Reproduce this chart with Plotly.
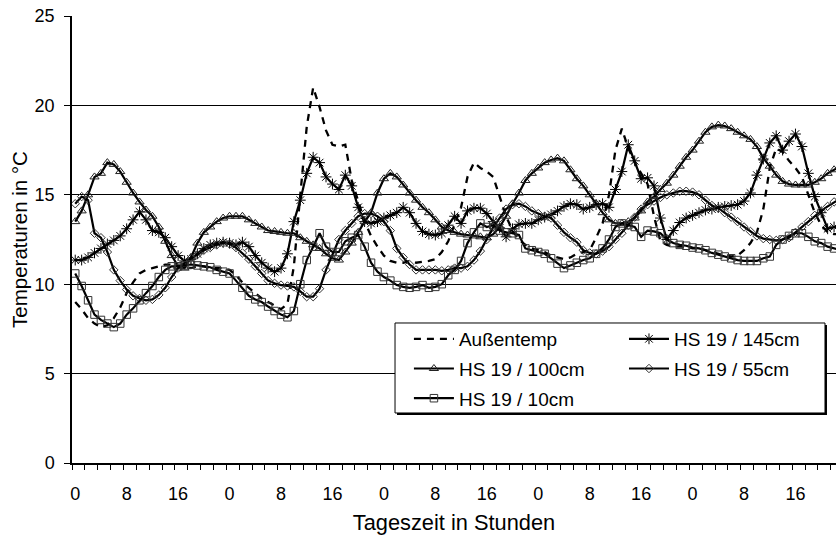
import plotly.graph_objects as go

# ---------------- data (hourly readings, category index = hour) ----------------
hours = list(range(120))
tick_positions = list(range(0, 113, 8))
tick_labels = ["0", "8", "16"] * 5
minor_tick_positions = [h - 0.5 for h in range(0, 122, 2)]

aussentemp = [
    9.0, 8.6, 8.1, 7.8, 7.6, 7.7, 8.1, 8.7, 9.5, 10.1,
    10.6, 10.8, 10.9, 11.0, 11.1, 11.1, 11.0, 11.0, 10.9, 11.0,
    11.0, 10.9, 10.9, 10.9, 10.8, 10.5, 10.1, 9.8, 9.5, 9.2,
    9.0, 8.8, 8.6, 8.9, 11.0, 15.0, 18.8, 21.0, 19.9, 18.6,
    17.8, 17.7, 17.8, 15.8, 14.6, 13.5, 12.7, 12.1, 11.6, 11.3,
    11.2, 11.2, 11.3, 11.2, 11.25, 11.3, 11.4, 11.8, 12.4, 13.3,
    14.3, 16.0, 16.8, 16.5, 16.3, 16.0, 14.9, 13.8, 13.0, 12.5,
    12.2, 12.0, 11.9, 11.8, 11.6, 11.5, 11.4, 11.5, 11.7, 11.8,
    11.9, 12.6, 13.4, 15.0, 17.5, 18.7, 17.6, 16.8, 16.2, 15.6,
    13.8, 12.4, 12.2, 12.1, 12.1, 12.1, 12.0, 12.0, 11.9, 11.8,
    11.7, 11.6, 11.55, 11.6, 11.9, 12.3, 12.9, 14.2, 16.5, 17.6,
    17.4, 16.9, 16.5, 16.0, 15.0, 14.0, 13.3, 12.9, 12.8, 12.8,
]

hs19_145 = [
    11.35, 11.35, 11.5, 11.75, 12.0, 12.25, 12.45, 12.7, 13.1, 13.6,
    14.05, 13.6, 13.0, 12.9, 12.6, 12.1, 11.6, 11.3, 11.4, 11.7,
    12.0, 12.2, 12.3, 12.35, 12.3, 12.2, 12.35, 12.1, 11.6, 11.2,
    10.9, 10.7, 10.9, 11.7, 13.5, 14.7, 16.2, 17.1, 16.8, 16.0,
    15.6, 15.3, 16.1, 15.5, 14.3, 13.5, 13.4, 13.5, 13.7, 13.85,
    14.0, 14.3, 14.0, 13.4, 12.95, 12.8, 12.75, 12.85, 13.3, 13.8,
    13.4, 14.1, 14.25, 14.25, 13.95, 13.5, 13.15, 12.65, 13.1, 13.35,
    13.4, 13.4, 13.6, 13.75, 13.9, 14.1, 14.35, 14.5, 14.45, 14.2,
    14.3, 14.45, 14.5, 14.3, 15.3, 16.3, 17.8, 16.9, 15.9, 15.95,
    15.5, 13.7, 12.5, 13.0, 13.45, 13.7, 13.85, 14.0, 14.15, 14.2,
    14.3, 14.35, 14.4, 14.45, 14.65, 15.1, 16.1, 17.0, 17.9, 18.3,
    17.5, 18.0, 18.4, 17.7, 16.2, 14.9, 14.0, 13.1, 13.2, 13.2,
]

hs19_100 = [
    13.5, 14.1, 15.0, 16.0, 16.2, 16.8, 16.7, 16.3, 15.7, 15.1,
    14.6, 14.15, 13.8, 13.2, 12.4, 11.6, 11.0, 10.9, 11.5, 12.3,
    12.9, 13.2, 13.5, 13.7, 13.8, 13.8, 13.8, 13.6, 13.4, 13.2,
    13.0, 12.95, 12.9, 12.85, 12.85, 12.6, 12.4, 12.2, 12.0, 11.7,
    11.45, 11.35, 11.8, 12.3, 12.9, 13.5, 14.0, 15.1, 15.9, 16.2,
    16.0, 15.55, 15.1, 14.7, 14.3, 14.0, 13.6, 13.2, 13.0, 12.9,
    12.8, 12.75, 12.7, 12.65, 12.6, 12.8, 13.2, 13.8, 14.5, 15.1,
    15.8, 16.2, 16.5, 16.8, 16.95, 17.05, 16.9, 16.4, 15.9, 15.5,
    15.0, 14.5, 14.0, 13.6, 13.4, 13.4, 13.5, 13.7, 14.1, 14.6,
    14.9, 15.3, 15.65, 16.1, 16.6, 17.1, 17.5, 18.0, 18.5, 18.8,
    18.9, 18.85, 18.7, 18.5, 18.3, 18.1, 17.7, 17.05, 16.6, 16.1,
    15.75, 15.6, 15.55, 15.55, 15.55, 15.7, 15.9, 16.2, 16.4, 16.6,
]

hs19_55 = [
    14.5, 14.9, 14.7, 12.85, 12.6, 11.8, 10.8, 10.2, 9.7, 9.35,
    9.2, 9.1, 9.15, 9.4, 9.8, 10.4, 10.9, 11.2, 11.45, 11.65,
    11.9, 12.05, 12.2, 12.3, 12.25, 12.05, 11.75, 11.4, 11.0, 10.6,
    10.2, 10.05, 9.95, 9.9, 9.85, 9.6, 9.3, 9.3, 9.75, 10.8,
    11.7, 12.5, 13.0, 13.4, 13.8, 13.95, 13.95, 13.8, 13.5, 13.0,
    12.0, 11.5, 11.1, 10.8, 10.8, 10.8, 10.8, 10.75, 10.8, 10.9,
    10.9, 11.0, 11.35, 11.85, 12.5, 13.2, 13.7, 14.2, 14.45, 14.5,
    14.35, 14.1, 13.95, 13.8, 13.7, 13.3, 12.9, 12.6, 12.35, 11.9,
    11.75, 11.7, 11.85, 12.1, 12.5, 12.85, 13.3, 13.75, 14.2, 14.45,
    14.65, 14.85, 15.0, 15.1, 15.2, 15.2, 15.15, 15.0, 14.7, 14.4,
    14.25, 14.0, 13.75, 13.5, 13.2, 12.95, 12.7, 12.55, 12.5, 12.45,
    12.5, 12.6, 12.9, 13.2, 13.5, 13.85, 14.1, 14.35, 14.6, 14.8,
]

hs19_10 = [
    10.6, 9.9, 9.1, 8.3, 8.0, 7.8, 7.6, 7.8, 8.3, 8.65,
    9.1, 9.5, 9.9, 10.4, 10.8, 11.0, 11.0, 11.05, 11.1, 11.05,
    11.0, 10.95, 10.8, 10.7, 10.6, 10.2, 9.8, 9.35, 9.15, 9.0,
    8.75, 8.5, 8.3, 8.15, 8.5, 10.0, 11.35, 12.1, 12.85, 12.1,
    11.8, 11.8, 12.4, 12.6, 12.75, 12.1, 11.2, 10.7, 10.4, 10.2,
    9.95, 9.85, 9.8, 9.85, 9.95, 9.8, 9.85, 10.0, 10.5, 10.8,
    11.3, 12.3, 12.9, 13.4, 13.2, 13.3, 13.0, 12.9, 12.85, 12.75,
    12.0, 11.9, 11.8, 11.7, 11.45, 11.15, 10.9, 11.05, 11.2, 11.35,
    11.45, 11.7, 12.0, 12.5, 13.2, 13.4, 13.3, 13.2, 12.65, 13.0,
    12.95, 12.85, 12.5, 12.3, 12.2, 12.15, 12.05, 12.0, 11.9, 11.75,
    11.65, 11.55, 11.45, 11.35, 11.3, 11.3, 11.3, 11.45, 11.55, 12.2,
    12.5, 12.7, 12.85, 12.85, 12.65, 12.4, 12.3, 12.1, 12.0, 11.9,
]

FONT = "Liberation Sans, Arial, sans-serif"

fig = go.Figure()

fig.add_trace(go.Scatter(
    x=hours, y=aussentemp, name="Außentemp", mode="lines",
    line=dict(color="black", width=2.3, dash="7px,6px"),
    legend="legend", legendgroup="a",
))
fig.add_trace(go.Scatter(
    x=hours, y=hs19_145, name="HS 19 / 145cm", mode="lines+markers",
    line=dict(color="black", width=2.2),
    marker=dict(symbol="asterisk-open", size=9, color="black",
                line=dict(color="#222", width=1)),
    legend="legend2", legendgroup="b",
))
fig.add_trace(go.Scatter(
    x=hours, y=hs19_100, name="HS 19 / 100cm", mode="lines+markers",
    line=dict(color="black", width=2.2),
    marker=dict(symbol="triangle-up-open", size=8, color="#222",
                line=dict(color="#222", width=1)),
    legend="legend", legendgroup="c",
))
fig.add_trace(go.Scatter(
    x=hours, y=hs19_55, name="HS 19 / 55cm", mode="lines+markers",
    line=dict(color="black", width=2.2),
    marker=dict(symbol="diamond-open", size=6.5, color="#333",
                line=dict(color="#333", width=1)),
    legend="legend2", legendgroup="d",
))
fig.add_trace(go.Scatter(
    x=hours, y=hs19_10, name="HS 19 / 10cm", mode="lines+markers",
    line=dict(color="black", width=2.2),
    marker=dict(symbol="square-open", size=7.5, color="#333",
                line=dict(color="#333", width=1)),
    legend="legend", legendgroup="e",
))

# legend frame with shadow (paper coordinates of the plot area)
fig.add_shape(type="rect", xref="paper", yref="paper", layer="above",
              x0=0.4254, x1=0.9882, y0=0.1074, y1=0.3087,
              fillcolor="black", line=dict(width=0))
fig.add_shape(type="rect", xref="paper", yref="paper", layer="above",
              x0=0.4228, x1=0.9856, y0=0.1119, y1=0.3132,
              fillcolor="white", line=dict(color="black", width=1))

legend_common = dict(
    bgcolor="rgba(0,0,0,0)", borderwidth=0, font=dict(family=FONT, size=19, color="black"),
    xanchor="left", yanchor="top", tracegroupgap=2, itemwidth=40,
)

fig.update_layout(
    width=836, height=536,
    paper_bgcolor="white", plot_bgcolor="white",
    margin=dict(l=72, r=0, t=16, b=73),
    font=dict(family=FONT, size=18, color="black"),
    showlegend=True,
    legend=dict(x=0.441, y=0.32, **legend_common),
    legend2=dict(x=0.7225, y=0.32, **legend_common),
    xaxis=dict(
        range=[-0.5, 118.3],
        tickmode="array", tickvals=tick_positions, ticktext=tick_labels,
        ticks="outside", ticklen=14, tickcolor="rgba(0,0,0,0)",
        tickfont=dict(family=FONT, size=18),
        minor=dict(tickmode="array", tickvals=minor_tick_positions,
                   ticks="outside", ticklen=5, tickcolor="black", tickwidth=1,
                   showgrid=False),
        showline=True, linecolor="black", linewidth=1.5,
        showgrid=False, zeroline=False,
        title=dict(text="Tageszeit in Stunden", font=dict(family=FONT, size=21.8),
                   standoff=11),
    ),
    yaxis=dict(
        range=[0, 25], tickmode="array", tickvals=[0, 5, 10, 15, 20, 25],
        ticks="outside", ticklen=6, tickcolor="black",
        ticklabelstandoff=6,
        tickfont=dict(family=FONT, size=18),
        showline=True, linecolor="black", linewidth=1.5,
        showgrid=True, gridcolor="black", gridwidth=1, zeroline=False,
        title=dict(text="Temperaturen in °C", font=dict(family=FONT, size=20.5),
                   standoff=1),
    ),
)

fig.write_html("out.html", config={"displayModeBar": False},
               post_script="document.body.style.margin='0';")
